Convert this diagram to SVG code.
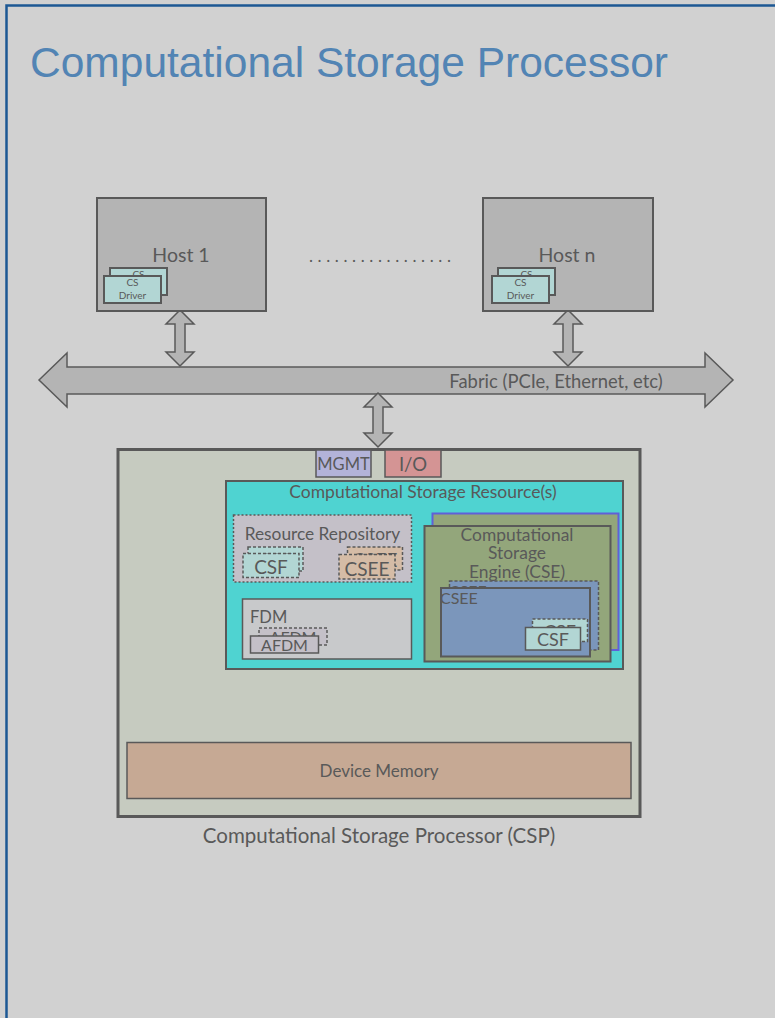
<svg xmlns="http://www.w3.org/2000/svg" width="775" height="1018" viewBox="0 0 775 1018">
  <style>
    .t { font-family: Lato, "Liberation Sans", sans-serif; fill: #595959; }
    .c { text-anchor: middle; }
    .box { stroke: #595959; stroke-width: 2; }
    .thin { stroke: #595959; stroke-width: 1.5; }
    .dash { stroke: #595959; stroke-width: 1.5; stroke-dasharray: 3 2; }
    .dot { stroke: #595959; stroke-width: 1.5; stroke-dasharray: 2 2; }
    .arrow { fill: #b4b4b4; stroke: #595959; stroke-width: 1.5; stroke-linejoin: miter; }
    .host { fill: #b4b4b4; }
    .card { fill: #b2d6d4; }
    .lav { fill: #c4c0c8; }
    .olive { fill: #93a67b; }
    .blue { fill: #7b96bb; }
    .tan { fill: #d5bca6; }
  </style>

  <!-- page background and frame -->
  <rect x="0" y="0" width="775" height="1018" fill="#d1d1d1"/>
  <rect x="6.5" y="5.5" width="900" height="1100" fill="none" stroke="#1d5894" stroke-width="2.5"/>

  <text x="30" y="77" font-family="'Liberation Sans', Arial, sans-serif" font-size="42" fill="#5284b4" textLength="638" lengthAdjust="spacingAndGlyphs">Computational Storage Processor</text>

  <!-- connectors: fabric bus and links -->
  <g id="connectors">
    <polygon class="arrow" points="39,380 67,353 67,367 705,367 705,353 733,380 705,407 705,394 67,394 67,407"/>
    <polygon class="arrow" points="180,310 194,324 185,324 185,352 194,352 180,366 166,352 175,352 175,324 166,324"/>
    <polygon class="arrow" points="568,310 582,324 573,324 573,352 582,352 568,366 554,352 563,352 563,324 554,324"/>
    <polygon class="arrow" points="378,393 392,407 383,407 383,433 392,433 378,447 364,433 373,433 373,407 364,407"/>
    <text class="t c" x="556" y="388" font-size="18.4">Fabric (PCIe, Ethernet, etc)</text>
  </g>

  <!-- host 1 -->
  <g id="host1">
    <rect class="host box" x="97" y="198" width="169" height="113"/>
    <text class="t c" x="181" y="262" font-size="19.5">Host 1</text>
    <rect class="card box" x="110" y="268" width="57" height="27"/>
    <text class="t c" x="138.5" y="278" font-size="10">CS</text>
    <rect class="card box" x="104" y="276" width="57" height="27"/>
    <text class="t c" x="132.5" y="286" font-size="10">CS</text>
    <text class="t c" x="132.5" y="299" font-size="10">Driver</text>
  </g>

  <text id="dots" class="t" x="309" y="262" font-size="17" textLength="142" lengthAdjust="spacing">.................</text>

  <!-- host n -->
  <g id="hostn">
    <rect class="host box" x="483" y="198" width="170" height="113"/>
    <text class="t c" x="567" y="262" font-size="19.5">Host n</text>
    <rect class="card box" x="498" y="268" width="57" height="27"/>
    <text class="t c" x="526.5" y="278" font-size="10">CS</text>
    <rect class="card box" x="492" y="276" width="57" height="27"/>
    <text class="t c" x="520.5" y="286" font-size="10">CS</text>
    <text class="t c" x="520.5" y="299" font-size="10">Driver</text>
  </g>

  <!-- computational storage processor -->
  <g id="csp">
    <rect x="118" y="449.5" width="522" height="367" fill="#c6cbc0" stroke="#595959" stroke-width="3"/>
    <text class="t c" x="379" y="843" font-size="20.5">Computational Storage Processor (CSP)</text>
  </g>

  <g id="mgmt">
    <rect x="316" y="450" width="55" height="27" fill="#b3b3d9" class="thin"/>
    <text class="t c" x="343.5" y="470" font-size="16.5">MGMT</text>
  </g>

  <g id="io">
    <rect x="385" y="450" width="56" height="27" fill="#d49494" class="thin"/>
    <text class="t c" x="413" y="471" font-size="18.5">I/O</text>
  </g>

  <g id="csr">
    <rect x="226" y="481" width="397" height="188" fill="#4fd3d1" class="box"/>
    <text class="t c" x="423" y="498" font-size="17.5">Computational Storage Resource(s)</text>
  </g>

  <g id="repository">
    <rect class="lav dot" x="233.5" y="515" width="178" height="67"/>
    <text class="t c" x="322.5" y="540" font-size="17.3">Resource Repository</text>
    <rect class="card dash" x="248" y="547" width="55" height="24"/>
    <text class="t c" x="275.5" y="567" font-size="19">CSF</text>
    <rect class="card dash" x="243" y="553.5" width="56" height="24"/>
    <text class="t c" x="271" y="574" font-size="19">CSF</text>
    <rect class="tan dash" x="347.5" y="547" width="55" height="23"/>
    <text class="t c" x="375" y="567" font-size="19">CSEE</text>
    <rect class="tan dash" x="339" y="554.5" width="56" height="24.5"/>
    <text class="t c" x="367" y="575.5" font-size="19">CSEE</text>
  </g>

  <g id="fdm">
    <rect x="242.5" y="599" width="169" height="60" fill="#c8c9cb" class="thin"/>
    <text class="t" x="250" y="623" font-size="16.5">FDM</text>
    <rect class="lav dash" x="259" y="628" width="68" height="17"/>
    <text class="t c" x="293" y="643" font-size="16">AFDM</text>
    <rect class="lav thin" x="250.5" y="636" width="68" height="17"/>
    <text class="t c" x="284.5" y="651" font-size="16">AFDM</text>
  </g>

  <g id="cse">
    <rect class="olive" x="432.5" y="513.5" width="186" height="136.5" stroke="#6060d8" stroke-width="2"/>
    <rect class="olive box" x="424.5" y="526" width="186" height="135.5"/>
    <text class="t c" x="517" y="541" font-size="17.4">Computational</text>
    <text class="t c" x="517" y="559" font-size="17.4">Storage</text>
    <text class="t c" x="517" y="577.5" font-size="17.4">Engine (CSE)</text>
  </g>

  <g id="csee">
    <rect class="blue dash" x="449.5" y="581" width="149" height="69"/>
    <text class="t" x="449" y="596.5" font-size="16">CSEE</text>
    <rect class="blue box" x="441" y="588" width="149" height="68.5"/>
    <text class="t" x="440" y="604" font-size="16">CSEE</text>
    <rect class="card dash" x="532.5" y="619" width="55" height="22.5"/>
    <text class="t c" x="560" y="637.5" font-size="18">CSF</text>
    <rect class="card thin" x="525.5" y="627.5" width="55" height="22.5"/>
    <text class="t c" x="553" y="645.5" font-size="18">CSF</text>
  </g>

  <g id="memory">
    <rect x="127" y="742.5" width="504" height="56" fill="#c6a994" class="thin"/>
    <text class="t c" x="379" y="777" font-size="17">Device Memory</text>
  </g>
</svg>
